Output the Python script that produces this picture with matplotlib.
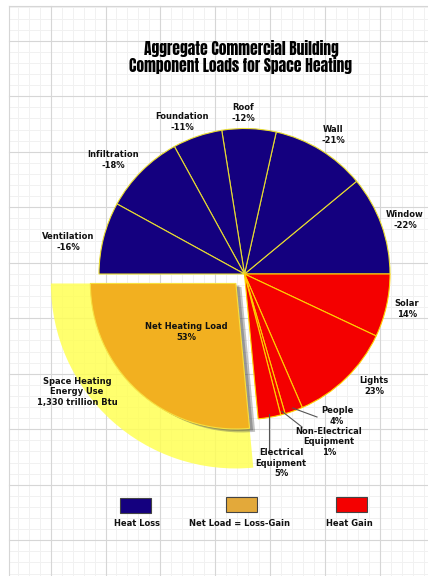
import matplotlib
matplotlib.use("Agg")
import matplotlib.pyplot as plt
import matplotlib.patheffects as pe
import numpy as np

# ---- data ----
loss_labels = ["Window", "Wall", "Roof", "Foundation", "Infiltration", "Ventilation"]
loss_values = [22, 21, 12, 11, 18, 16]
gain_labels = ["Solar", "Lights", "People", "Non-Electrical\nEquipment", "Electrical\nEquipment"]
gain_values = [14, 23, 4, 1, 5]
net_label = "Net Heating Load"
net_value = 53
energy_label = "Space Heating\nEnergy Use\n1,330 trillion Btu"
legend_labels = ["Heat Loss", "Net Load = Loss-Gain", "Heat Gain"]
title = "Aggregate Commercial Building\nComponent Loads for Space Heating"

# ---- style ----
BLUE = "#14007f"
RED = "#f40000"
ORANGE = "#f2b020"
YELLOW = "#ffff55"
EDGE = "#e8dc30"
TXT = "#111111"
W, H = 428, 576

fig = plt.figure(figsize=(W / 100, H / 100), dpi=100)
ax = fig.add_axes([0, 0, 1, 1])

def Y(yp):
    return H - yp

# ---- graph paper background ----
gx0, gy0 = 9, 6
for x in np.arange(50.7 - 5 * 11, W, 54.9 / 5):
    if x > gx0:
        ax.plot([x, x], [Y(gy0), Y(H)], color="#f1f1f1", lw=0.7, zorder=0)
for y in np.arange(40.7 - 55.5, H, 55.5 / 5):
    if y > gy0:
        ax.plot([gx0, W], [Y(y), Y(y)], color="#f1f1f1", lw=0.7, zorder=0)
for x in np.arange(50.7, W, 54.9):
    ax.plot([x, x], [Y(gy0), Y(H)], color="#d6d6d6", lw=0.8, zorder=0.1)
for y in np.arange(40.7, H, 55.5):
    ax.plot([gx0, W], [Y(y), Y(y)], color="#d6d6d6", lw=0.8, zorder=0.1)
ax.plot([gx0, gx0], [Y(gy0), Y(H)], color="#d6d6d6", lw=0.8, zorder=0.1)
ax.plot([gx0, W], [Y(gy0), Y(gy0)], color="#d6d6d6", lw=0.8, zorder=0.1)

# ---- pies ----
cx, cy = 244.5, Y(274)
R = 145.5
R_big = 185
offset_px = 12.8

# top half: heat loss
w_top, _ = ax.pie(loss_values + [sum(loss_values)], colors=[BLUE] * len(loss_values) + ["white"],
                  startangle=0, counterclock=True, radius=R, center=(cx, cy),
                  wedgeprops=dict(edgecolor=EDGE, linewidth=0.8), frame=True)
w_top[-1].set_visible(False)
for w in w_top:
    w.set_zorder(2)

n = len(gain_values)
half_total = sum(gain_values) + net_value

# yellow energy-use sector
w_y, _ = ax.pie(gain_values + [net_value, half_total],
                colors=["white"] * n + [YELLOW, "white"],
                explode=[0] * n + [offset_px, 0],
                startangle=0, counterclock=False, radius=R_big, center=(cx, cy),
                wedgeprops=dict(linewidth=0), frame=True)
for i, w in enumerate(w_y):
    if i != n:
        w.set_visible(False)
    else:
        w.set_alpha(0.85)
        w.set_zorder(1)

# bottom half: heat gain + net load
w_bot, _ = ax.pie(gain_values + [net_value, half_total],
                  colors=[RED] * n + [ORANGE, "white"],
                  explode=[0] * n + [offset_px, 0],
                  startangle=0, counterclock=False, radius=R, center=(cx, cy),
                  wedgeprops=dict(edgecolor="#ffd000", linewidth=0.8), frame=True)
w_bot[-1].set_visible(False)
for w in w_bot:
    w.set_zorder(2)
w_bot[n].set_edgecolor("#f7e040")
w_bot[n].set_zorder(3)
w_bot[n].set_path_effects([pe.SimplePatchShadow(offset=(4, -2.5), shadow_rgbFace="#555555", alpha=0.35),
                           pe.SimplePatchShadow(offset=(2.5, -1.5), shadow_rgbFace="#444444", alpha=0.35),
                           pe.Normal()])

ax.set_xlim(0, W)
ax.set_ylim(0, H)
ax.set_aspect("auto")
ax.axis("off")

# ---- title ----
ax.text(241, Y(57), title, ha="center", va="center", fontsize=11.2,
        family=["Anton", "DejaVu Sans"], color="black", linespacing=1.05, zorder=5)

# ---- labels ----
lab_kw = dict(ha="center", va="center", fontsize=6, fontweight="bold", color=TXT,
              family="DejaVu Sans", linespacing=1.15, zorder=5)
loss_pos = [(405, 220), (333, 135), (243, 113), (182, 122), (113, 160), (68, 242)]
for lbl, v, (x, y) in zip(loss_labels, loss_values, loss_pos):
    ax.text(x, Y(y), f"{lbl}\n-{v}%", **lab_kw)

gain_pos = [(407, 309), (374, 386), (337, 416), (329, 442), (281, 463)]
for lbl, v, (x, y) in zip(gain_labels, gain_values, gain_pos):
    ax.text(x, Y(y), f"{lbl}\n{v}%", **lab_kw)

ax.text(186, Y(332), f"{net_label}\n{net_value}%", **lab_kw)
ax.text(77, Y(392), energy_label, **lab_kw)

# leader lines for small slices
cum = np.cumsum([0] + gain_values)
ends = {2: (317, 417), 3: (302, 427), 4: None}
for i in (2, 3, 4):
    mid = -(cum[i] + gain_values[i] / 2) / (2 * half_total) * 360
    sx = cx + (R - 3) * np.cos(np.radians(mid))
    sy = cy + (R - 3) * np.sin(np.radians(mid))
    if ends[i] is None:
        ex, ey = sx, Y(450)
    else:
        ex, ey = ends[i][0], Y(ends[i][1])
    ax.plot([sx, ex], [sy, ey], color="#555555", lw=0.8, zorder=4)

# ---- legend ----
leg_boxes = [(120, 498, BLUE), (226, 497, "#e3a93a"), (336, 497, RED)]
leg_text = [(137, 523), (240, 523), (349, 523)]
for (x, y, c), lbl, (tx, ty) in zip(leg_boxes, legend_labels, leg_text):
    ax.add_patch(plt.Rectangle((x, Y(y + 15)), 31, 15, facecolor=c, edgecolor="#444444",
                               lw=0.8, zorder=5))
    ax.text(tx, Y(ty), lbl, **lab_kw)

fig.savefig("out.png", dpi=100, facecolor="white")
